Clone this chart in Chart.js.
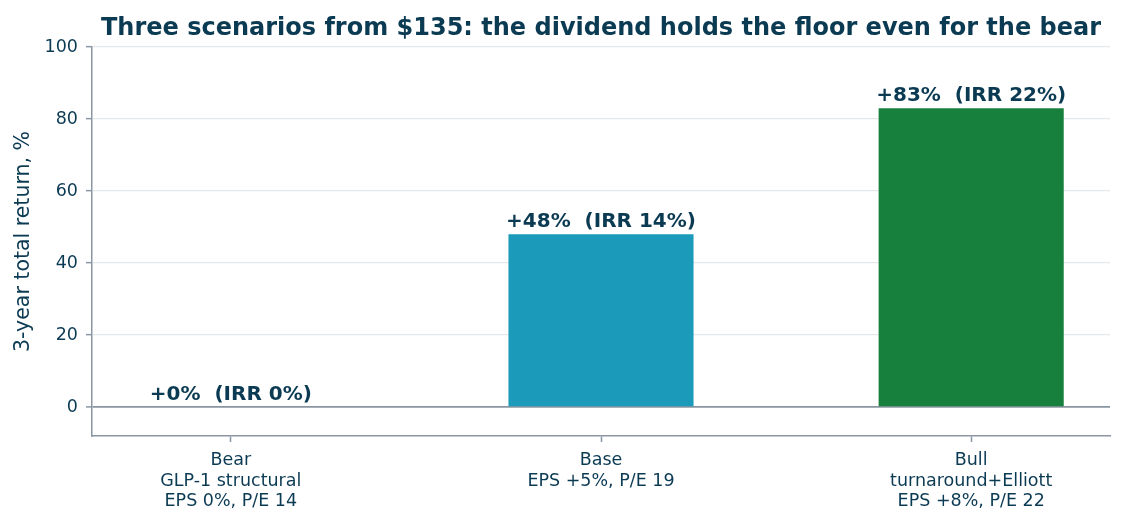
<!DOCTYPE html>
<html>
<head>
<meta charset="utf-8">
<script src="https://cdn.jsdelivr.net/npm/chart.js@4"></script>
<style>
  body { margin: 0; background: #fff; }
  #wrap { width: 1125px; height: 525px; }
</style>
</head>
<body>
<div id="wrap"><canvas id="myChart" width="1125" height="525"></canvas></div>
<script>
const scenarios = ['Bear', 'Base', 'Bull'];
const drivers = ['GLP-1 structural', '', 'turnaround+Elliott'];
const assumptions = ['EPS 0%, P/E 14', 'EPS +5%, P/E 19', 'EPS +8%, P/E 22'];
const totalReturn = [0, 48, 83];
const irr = [0, 14, 22];
const barColors = ['#1b9ab9', '#1b9ab9', '#17803d'];
const yTicks = [0, 20, 40, 60, 80, 100];

const ink = '#0b3a53';
const axisGray = '#8a96a1';
const gridGray = '#e4e8eb';
const titleText = 'Three scenarios from $135: the dividend holds the floor even for the bear';

// title centred over the plot area, like the original
const titlePlugin = {
  id: 'plotTitle',
  afterDraw(chart) {
    const { ctx, chartArea } = chart;
    ctx.save();
    ctx.font = 'bold 24px "DejaVu Sans"';
    ctx.fillStyle = ink;
    ctx.textAlign = 'center';
    ctx.textBaseline = 'alphabetic';
    ctx.fillText(titleText, (chartArea.left + chartArea.right) / 2, 35);
    ctx.restore();
  }
};

// value labels above each bar
const valueLabels = {
  id: 'valueLabels',
  afterDatasetsDraw(chart) {
    const { ctx } = chart;
    const meta = chart.getDatasetMeta(0);
    ctx.save();
    ctx.font = 'bold 20px "DejaVu Sans"';
    ctx.fillStyle = ink;
    ctx.textAlign = 'center';
    ctx.textBaseline = 'alphabetic';
    meta.data.forEach((bar, i) => {
      const y = chart.scales.y.getPixelForValue(Math.max(totalReturn[i], 0));
      ctx.fillText(`+${totalReturn[i]}%  (IRR ${irr[i]}%)`, bar.x, y - 7);
    });
    ctx.restore();
  }
};

const ctx = document.querySelector('#myChart').getContext('2d');
new Chart(ctx, {
  type: 'bar',
  data: {
    datasets: [{
      data: totalReturn.map((v, i) => ({ x: i, y: v })),
      backgroundColor: barColors,
      borderWidth: 0,
      barPercentage: 0.5,
      categoryPercentage: 1.0
    }]
  },
  options: {
    responsive: false,
    animation: false,
    layout: { padding: { top: 47, right: 15, left: 0, bottom: 0 } },
    plugins: { legend: { display: false }, tooltip: { enabled: false } },
    scales: {
      x: {
        type: 'linear',
        min: -0.375,
        max: 2.375,
        offset: false,
        afterBuildTicks: s => { s.ticks = [0, 1, 2].map(v => ({ value: v })); },
        afterFit: s => { s.height = 89; },
        grid: { offset: false, drawOnChartArea: false, drawTicks: true, tickLength: 6, tickColor: axisGray, tickWidth: 1.5 },
        border: { color: axisGray, width: 1.5 },
        ticks: {
          autoSkip: false,
          maxRotation: 0,
          padding: 8,
          color: ink,
          font: { family: 'DejaVu Sans', size: 17.5, lineHeight: 1.18 },
          callback: v => [scenarios[v], drivers[v], assumptions[v]].filter(t => t)
        }
      },
      y: {
        min: -8,
        max: 100,
        afterBuildTicks: s => { s.ticks = yTicks.map(v => ({ value: v })); },
        afterFit: s => { s.width = 92; },
        grid: {
          color: c => c.tick && c.tick.value === 0 ? axisGray : gridGray,
          lineWidth: c => c.tick && c.tick.value === 0 ? 1.8 : 1.3,
          tickColor: axisGray,
          tickLength: 6,
          tickWidth: 1.5
        },
        border: { color: axisGray, width: 1.5 },
        ticks: { color: ink, padding: 8, font: { family: 'DejaVu Sans', size: 17.5 } },
        title: {
          display: true,
          text: '3-year total return, %',
          color: ink,
          padding: { top: 11, bottom: 0 },
          font: { family: 'DejaVu Sans', size: 20.5 }
        }
      }
    }
  },
  plugins: [titlePlugin, valueLabels]
});
</script>
</body>
</html>
